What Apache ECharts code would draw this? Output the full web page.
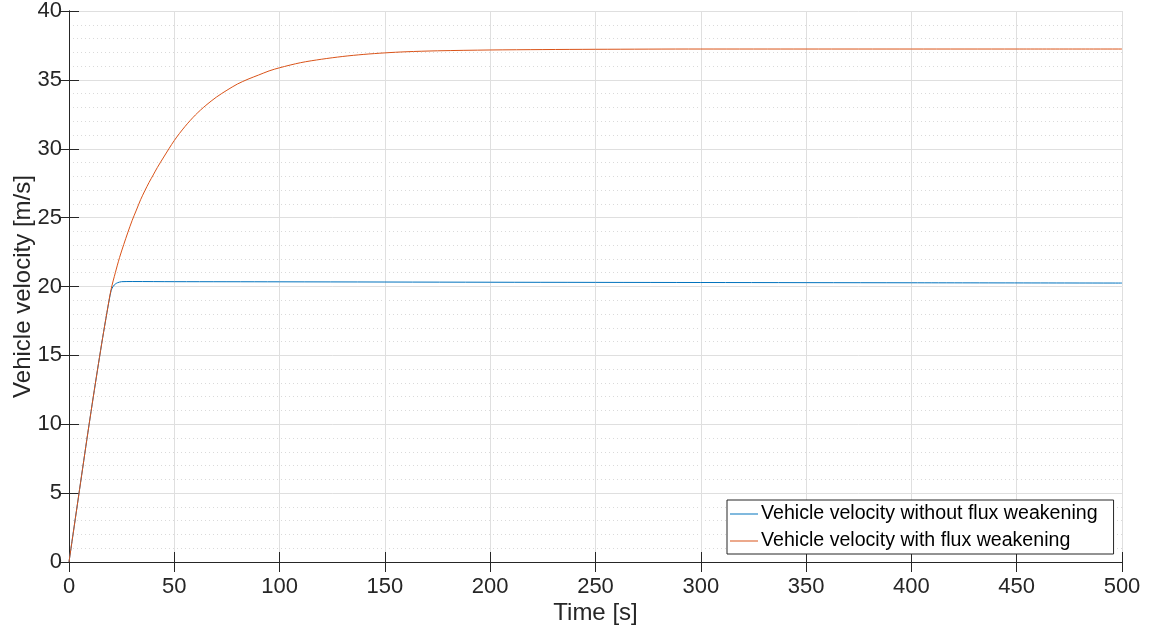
<!DOCTYPE html>
<html>
<head>
<meta charset="utf-8">
<script src="https://cdn.jsdelivr.net/npm/echarts@6/dist/echarts.min.js"></script>
<style>
  html, body { margin: 0; padding: 0; background: #ffffff; }
  #chart { width: 1150px; height: 630px; }
</style>
</head>
<body>
<div id="chart"></div>
<script>
// time [s] and vehicle velocity [m/s]
const timeWithout = [0, 2, 4, 6, 8, 10, 12, 14, 16, 18, 19, 20, 21, 22, 23, 24, 25, 30, 50, 100, 200, 300, 400, 500];
const speedWithout = [0, 2.1, 4.2, 6.3, 8.4, 10.45, 12.45, 14.4, 16.3, 18.1, 18.95, 19.7, 20.02, 20.18, 20.27, 20.32, 20.35, 20.36, 20.35, 20.34, 20.31, 20.29, 20.27, 20.25];

const timeWith = [0, 2, 4, 6, 8, 10, 12, 14, 16, 18, 20, 22, 24, 26, 28, 30, 32, 34, 36, 38, 40, 42, 45, 50, 55, 60, 65, 70, 75, 80, 85, 90, 95, 100, 110, 120, 130, 140, 150, 160, 175, 200, 225, 250, 300, 350, 400, 450, 500];
const speedWith = [0, 2.1, 4.2, 6.3, 8.4, 10.45, 12.45, 14.4, 16.3, 18.1, 19.8, 21.0, 22.1, 23.05, 23.95, 24.8, 25.55, 26.3, 26.95, 27.55, 28.1, 28.65, 29.4, 30.6, 31.6, 32.45, 33.15, 33.75, 34.25, 34.7, 35.05, 35.35, 35.65, 35.88, 36.25, 36.5, 36.7, 36.85, 36.96, 37.04, 37.11, 37.17, 37.2, 37.22, 37.24, 37.24, 37.24, 37.24, 37.24];

const seriesNames = ["Vehicle velocity without flux weakening", "Vehicle velocity with flux weakening"];
const seriesColors = ["#0072BD", "#D95319"];

const xTicks = { min: 0, max: 500, interval: 50 };
const yTicks = { min: 0, max: 40, interval: 5 };

const font = "Liberation Sans, Arial, Helvetica, sans-serif";
const boxColor = "#262626";

function pairs(xs, ys) {
  return xs.map((x, i) => [x, ys[i]]);
}

function frameAxis(base, position) {
  return {
    type: "value",
    position: position,
    ...base,
    axisLine: { show: true, lineStyle: { color: boxColor, width: 1 } },
    axisTick: { show: true, inside: true, length: 10, lineStyle: { color: boxColor, width: 1 } },
    axisLabel: { show: false },
    splitLine: { show: false },
  };
}

const chart = echarts.init(document.getElementById("chart"), null, { renderer: "canvas" });

chart.setOption({
  animation: false,
  backgroundColor: "#ffffff",
  grid: { left: 69, right: 28, top: 11, bottom: 68, containLabel: false, outerBoundsMode: "none" },
  legend: {
    orient: "vertical",
    left: 727,
    top: 500,
    padding: [4, 16, 3, 3],
    itemWidth: 28,
    itemHeight: 14,
    itemGap: 7,
    backgroundColor: "#ffffff",
    borderColor: boxColor,
    borderWidth: 1,
    textStyle: { fontFamily: font, fontSize: 19.6, color: "#000000", padding: [0, 0, 0, -2], lineHeight: 20 },
    data: seriesNames.map((name) => ({ name: name, icon: "path://M0,0 L28,0 L28,1 L0,1 Z" })),
  },
  xAxis: [
    {
      type: "value",
      ...xTicks,
      name: "Time [s]",
      nameLocation: "middle",
      nameGap: 39,
      nameMoveOverlap: false,
      nameTextStyle: { fontFamily: font, fontSize: 24, color: boxColor },
      axisLine: { show: true, lineStyle: { color: boxColor, width: 1 } },
      axisTick: { show: true, inside: true, length: 10, lineStyle: { color: boxColor, width: 1 } },
      axisLabel: { fontFamily: font, fontSize: 22, color: boxColor, margin: 14 },
      splitLine: { show: true, lineStyle: { color: "#dfdfdf", width: 1 } },
    },
    frameAxis(xTicks, "top"),
  ],
  yAxis: [
    {
      type: "value",
      ...yTicks,
      name: "Vehicle velocity [m/s]",
      nameLocation: "middle",
      nameGap: 34,
      nameMoveOverlap: false,
      nameTextStyle: { fontFamily: font, fontSize: 24, color: boxColor },
      axisLine: { show: true, lineStyle: { color: boxColor, width: 1 } },
      axisTick: { show: true, inside: true, length: 10, lineStyle: { color: boxColor, width: 1 } },
      axisLabel: { fontFamily: font, fontSize: 22, color: boxColor, margin: 7 },
      splitLine: { show: true, lineStyle: { color: "#dfdfdf", width: 1 } },
      minorTick: { show: false, splitNumber: 5 },
      minorSplitLine: { show: true, lineStyle: { color: "#dadada", width: 1, type: [1, 3] } },
    },
    frameAxis(yTicks, "right"),
  ],
  series: [
    {
      name: seriesNames[0],
      type: "line",
      symbol: "none",
      smooth: 0.3,
      color: seriesColors[0],
      lineStyle: { width: 1, color: seriesColors[0] },
      data: pairs(timeWithout, speedWithout),
      z: 3,
    },
    {
      name: seriesNames[1],
      type: "line",
      symbol: "none",
      smooth: 0.3,
      color: seriesColors[1],
      lineStyle: { width: 1, color: seriesColors[1] },
      data: pairs(timeWith, speedWith),
      z: 4,
    },
  ],
});
</script>
</body>
</html>
